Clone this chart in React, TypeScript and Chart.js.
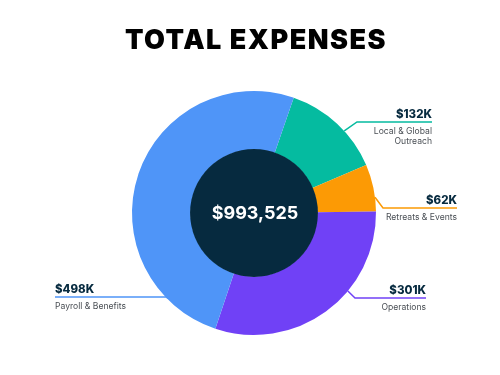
import React, { useEffect, useRef } from "react";
import { Chart, registerables } from "chart.js";
Chart.register(...registerables);

const title = "TOTAL EXPENSES";
const categories = ["Local & Global Outreach", "Retreats & Events", "Operations", "Payroll & Benefits"];
const labelLines = [["Local & Global", "Outreach"], ["Retreats & Events"], ["Operations"], ["Payroll & Benefits"]];
const values = [132, 62, 301, 498];
const valueLabels = ["$132K", "$62K", "$301K", "$498K"];
const totalLabel = "$993,525";
const colors = ["#05BBA0", "#FC9A05", "#7041F6", "#4F95F8"];

// leader-line layout (relative to doughnut centre)
const leaders = [
  { frac: 0.6, ex: 103, ey: -91, endX: 178 },
  { frac: 0.7, ex: 129, ey: -5, endX: 203 },
  { frac: 0.37, ex: 101, ey: 85, endX: 172 },
  { frac: 0.15, ex: -86, ey: 84, endX: -199 },
];

const NAVY = "#062A3F";
const FONT = "Inter, 'Noto Sans', sans-serif";

const overlay = {
  id: "overlay",
  afterDraw(chart: any) {
    const ctx = chart.ctx as CanvasRenderingContext2D;
    const meta = chart.getDatasetMeta(0);
    const first = meta.data[0];
    const cx = first.x;
    const cy = first.y;
    const inner = first.innerRadius;
    ctx.save();
    // title
    ctx.fillStyle = "#000";
    ctx.font = `900 27px ${FONT}`;
    (ctx as any).letterSpacing = "1.5px";
    ctx.textAlign = "center";
    ctx.textBaseline = "alphabetic";
    ctx.fillText(title, 256, 49);
    (ctx as any).letterSpacing = "0px";

    // centre disc
    ctx.beginPath();
    ctx.arc(cx, cy, inner + 0.5, 0, Math.PI * 2);
    ctx.fillStyle = NAVY;
    ctx.fill();
    ctx.fillStyle = "#FFFFFF";
    ctx.font = `700 18px ${FONT}`;
    ctx.textAlign = "center";
    ctx.textBaseline = "middle";
    ctx.fillText(totalLabel, cx + 1, cy + 1);

    // leader lines & labels
    meta.data.forEach((arc: any, i: number) => {
      const L = leaders[i];
      const a = arc.startAngle + (arc.endAngle - arc.startAngle) * L.frac;
      const sx = cx + Math.cos(a) * arc.outerRadius;
      const sy = cy + Math.sin(a) * arc.outerRadius;
      const ex = cx + L.ex;
      const ey = cy + L.ey;
      const endX = cx + L.endX;
      ctx.beginPath();
      ctx.moveTo(sx, sy);
      ctx.lineTo(ex, ey);
      ctx.lineTo(endX, ey);
      ctx.strokeStyle = colors[i];
      ctx.lineWidth = 1.5;
      ctx.stroke();
      const right = L.endX > 0;
      ctx.textAlign = right ? "right" : "left";
      ctx.textBaseline = "alphabetic";
      ctx.fillStyle = NAVY;
      ctx.font = `800 11.5px ${FONT}`;
      ctx.fillText(valueLabels[i], endX, ey - 4);
      ctx.fillStyle = "#4A4F55";
      ctx.font = `400 8.6px ${FONT}`;
      ctx.textBaseline = "middle";
      labelLines[i].forEach((t, j) => ctx.fillText(t, endX, ey + 9 + j * 10));
    });
    ctx.restore();
  },
};

export default function App() {
  const ref = useRef<HTMLCanvasElement>(null);
  useEffect(() => {
    if (!ref.current) return;
    const chart = new Chart(ref.current, {
      type: "doughnut",
      data: {
        labels: categories,
        datasets: [
          {
            data: values,
            backgroundColor: colors,
            borderWidth: 0,
            hoverOffset: 0,
          },
        ],
      },
      options: {
        responsive: false,
        animation: false,
        rotation: 19,
        cutout: "52%",
        layout: { padding: { top: 91, bottom: 40, left: 50, right: 42 } },
        plugins: { legend: { display: false }, tooltip: { enabled: false }, title: { display: false } },
      },
      plugins: [overlay],
    });
    return () => chart.destroy();
  }, []);
  return (
    <div style={{ position: "fixed", left: 0, top: 0, width: 500, height: 375, background: "#fff" }}>
      <canvas ref={ref} width={500} height={375} />
    </div>
  );
}
